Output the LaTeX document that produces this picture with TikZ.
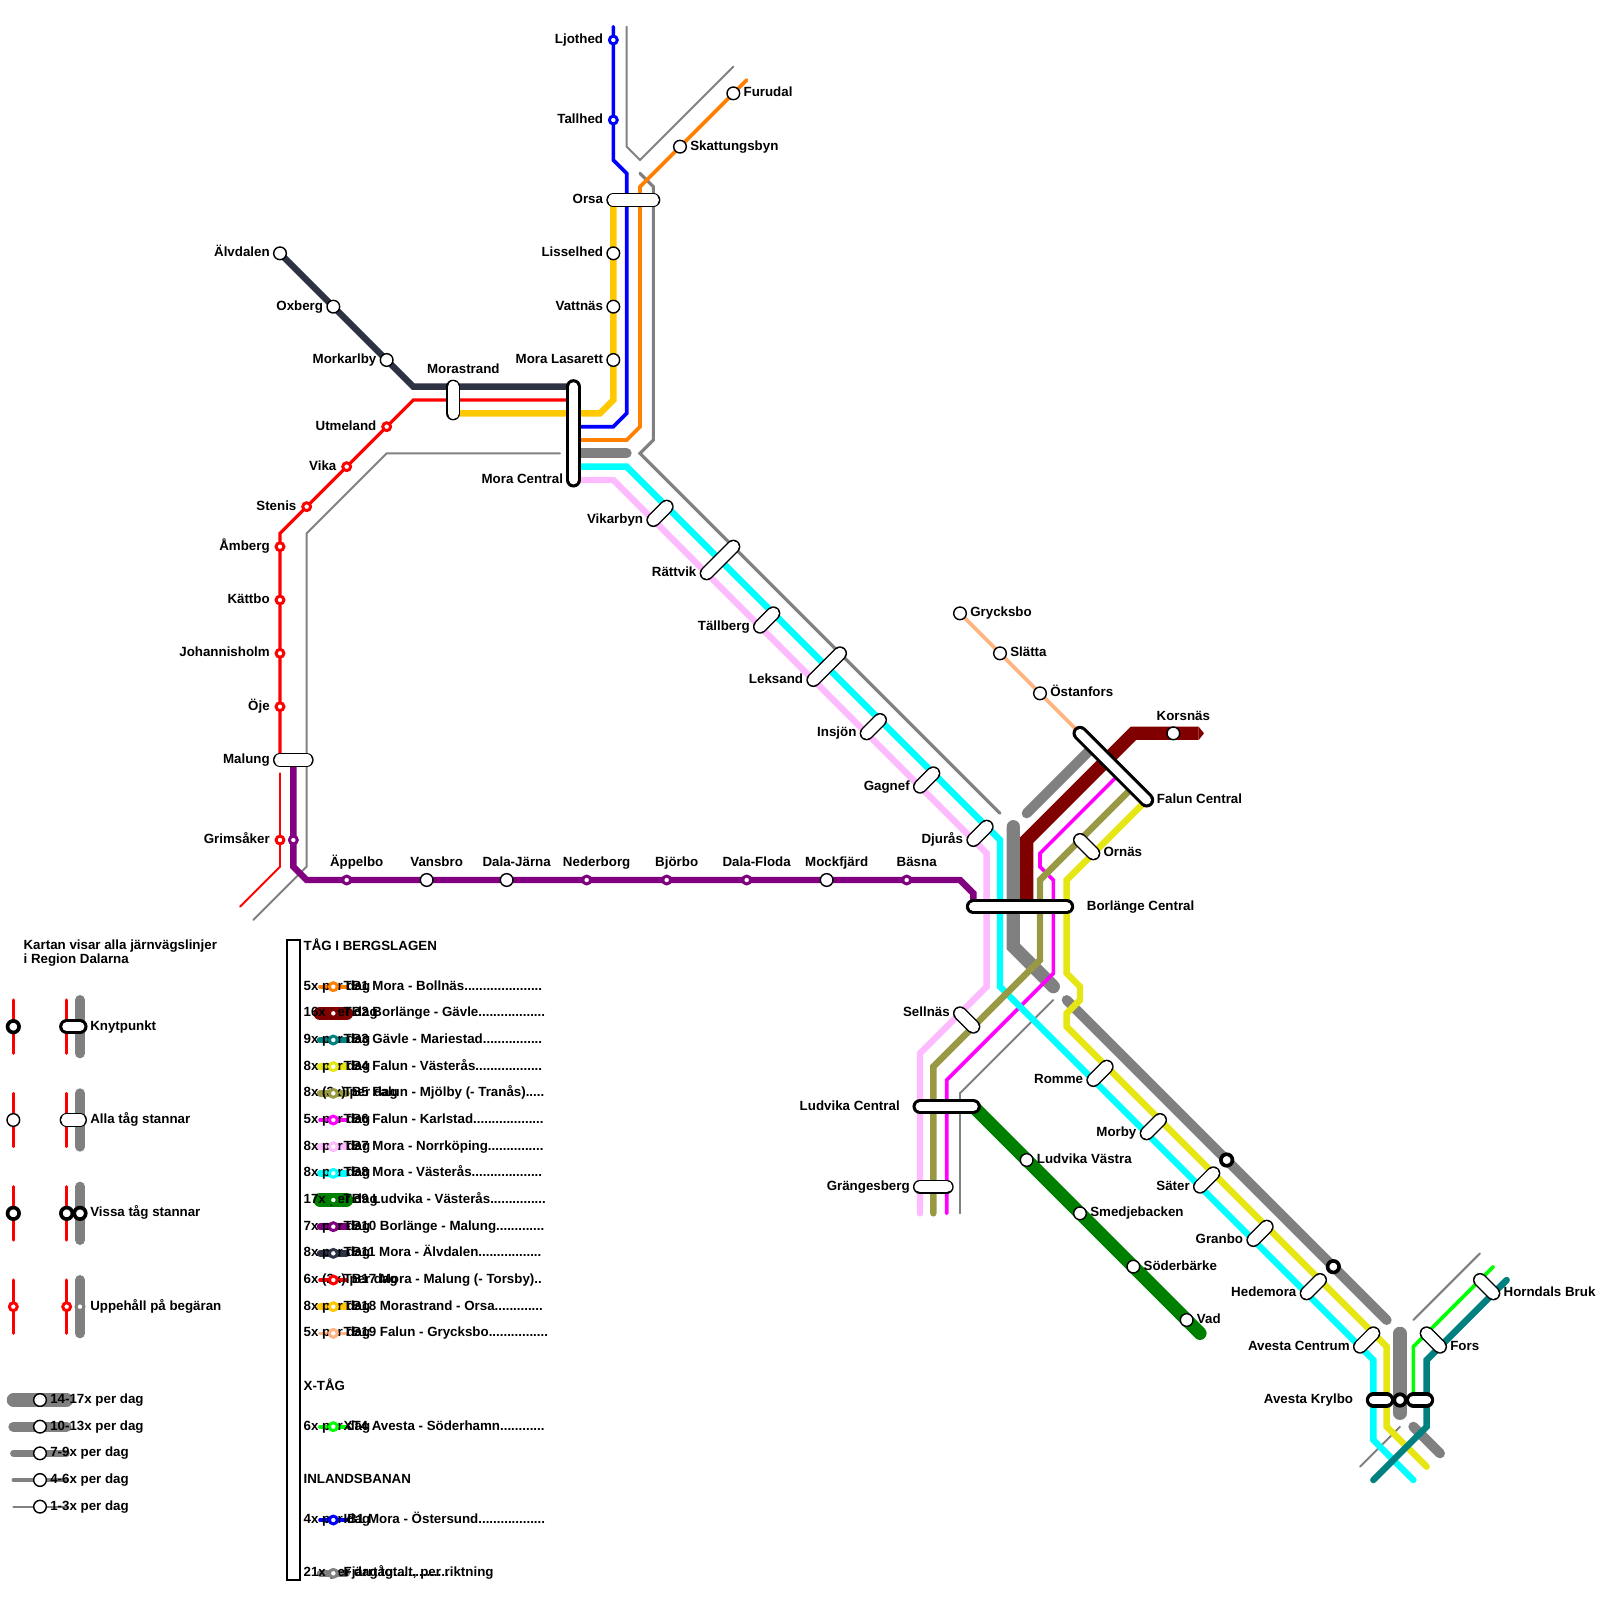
\documentclass[tikz,border=0pt]{standalone}
\usepackage{fontspec}
\setmainfont{Liberation Sans}
\definecolor{lineOrange}{HTML}{FF8000}
\definecolor{lineDarkRed}{HTML}{800000}
\definecolor{lineTeal}{HTML}{008080}
\definecolor{lineYellow}{HTML}{E6E614}
\definecolor{lineOlive}{HTML}{999944}
\definecolor{lineMagenta}{HTML}{FF00FF}
\definecolor{linePink}{HTML}{FFBBFF}
\definecolor{lineCyan}{HTML}{00FFFF}
\definecolor{lineGreen}{HTML}{008000}
\definecolor{linePurple}{HTML}{800080}
\definecolor{lineDark}{HTML}{2E3344}
\definecolor{lineRed}{HTML}{FF0000}
\definecolor{lineGold}{HTML}{FFC800}
\definecolor{linePeach}{HTML}{FFB380}
\definecolor{lineLime}{HTML}{00FF00}
\definecolor{lineBlue}{HTML}{0000FF}
\definecolor{lineGray}{HTML}{808080}
\newcount\dotcnt
\newcommand\rowdots[1]{\dotcnt=0\relax\loop\ifnum\dotcnt<#1\relax.\advance\dotcnt by 1\relax\repeat}
\tikzset{
  wa/.style={line width=9.4pt},
  wb/.style={line width=7.1pt},
  wc/.style={line width=4.6pt},
  wd/.style={line width=2.6pt},
  we/.style={line width=1.4pt},
  route/.style={line cap=round, line join=miter},
  halt/.style={line cap=round, draw=black, line width=1pt, double=white, double distance=8pt},
  hub/.style={line cap=round, draw=black, line width=2.2pt, double=white, double distance=6.3pt},
  stn/.style={circle, draw=black, fill=white, line width=1pt, minimum size=9pt, inner sep=0pt, outer sep=0pt},
  stnbold/.style={circle, draw=black, fill=white, line width=2.6pt, minimum size=8.2pt, inner sep=0pt, outer sep=0pt},
  ring/.style={circle, fill=white, line width=2.1pt, minimum size=5.6pt, inner sep=0pt, outer sep=0pt},
  lbl/.style={font=\fontsize{9.48pt}{9.48pt}\selectfont\bfseries, text=black, inner sep=0pt}
}
\begin{document}
\begin{tikzpicture}[x=1cm/3, y=-1cm/3]
  \useasboundingbox (0,0) rectangle (120,120);

  % Thin gray lines
  \draw[route, we, lineGray] (47,2) -- (47,11) -- (48,12) -- (55,5);
  \draw[route, we, lineGray] (42,34) -- (29,34) -- (23,40) -- (23,65) -- (19,69);
  \draw[route, we, lineGray] (79,75) -- (72,82) -- (72,91);
  \draw[route, we, lineGray] (105,107) -- (102,110);
  \draw[route, we, lineGray] (106,99) -- (111,94);
  \draw[route, lineGray, line width=2.2pt] (48,13) -- (49,14) -- (49,33) -- (48,34) -- (75,61);
  % Wide gray
  \draw[route, wb, lineGray] (43,34) -- (47,34);
  \draw[route, wb, lineGray] (77,61) -- (82,56);
  \draw[route, wa, lineGray] (76,62) -- (76,71) -- (79,74);
  \draw[route, wb, lineGray] (80,75) -- (104,99);
  \draw[route, wa, lineGray] (105,100) -- (105,106);
  \draw[route, wb, lineGray] (106,107) -- (108,109);

  % Coloured lines
  \draw[route, we, lineRed] (21,58) -- (21,65) -- (18,68);
  \draw[route, wd, lineMagenta] (84,58) -- (78,64) -- (78,65) -- (79,66) -- (79,73) -- (71,81) -- (71,91);
  \draw[route, wc, lineCyan] (43,35) -- (47,35) -- (75,63) -- (75,74) -- (103,102) -- (103,108) -- (106,111);
  \draw[route, wc, linePink] (43,36) -- (46,36) -- (74,64) -- (74,74) -- (69,79) -- (69,91);
  \draw[route, wc, lineOlive] (85,59) -- (78,66) -- (78,72) -- (70,80) -- (70,91);
  \draw[route, wc, lineYellow] (86,60) -- (80,66) -- (80,73) -- (81,74) -- (81,75) -- (80,76) -- (80,77) -- (104,101) -- (104,107) -- (107,110);
  \draw[route, wc, lineGold] (46,15) -- (46,30) -- (45,31) -- (34,31);
  \draw[route, wd, lineBlue] (46,2) -- (46,12) -- (47,13) -- (47,31) -- (46,32) -- (43,32);
  \draw[route, wd, lineOrange] (56,6) -- (48,14) -- (48,32) -- (47,33) -- (43,33);
  \draw[route, wc, lineDark] (21,19) -- (31,29) -- (43,29);
  \draw[route, lineRed, line width=2.3pt] (43,30) -- (31,30) -- (21,40) -- (21,57);
  \draw[route, wc, linePurple] (22,57) -- (22,65) -- (23,66) -- (72,66) -- (73,67) -- (73,68);
  \draw[route, wd, linePeach] (72,46) -- (81,55);
  \draw[route, wa, lineGreen] (73,83) -- (90,100);
  \draw[line cap=butt, wa, lineDarkRed] (77,68) -- (77,63) -- (85,55) -- (89.9,55);
  \fill[lineDarkRed] (89.9,54.5) -- (90.3,55) -- (89.9,55.5) -- cycle;
  \draw[route, wd, lineLime] (112,95) -- (106,101) -- (106,105);
  \draw[route, wc, lineTeal] (113,96) -- (107,102) -- (107,107) -- (103,111);

  % Halts drawn as bars
  \foreach \xa/\ya/\xb/\yb/\t in {46/15/49/15/Orsa, 21/57/23/57/Malung, 49/39/50/38/Vikarbyn,
      53/43/55/41/Rättvik, 57/47/58/46/Tällberg, 61/51/63/49/Leksand, 65/55/66/54/Insjön,
      69/59/70/58/Gagnef, 73/63/74/62/Djurås, 72/76/73/77/Sellnäs, 82/81/83/80/Romme,
      86/85/87/84/Morby, 90/89/91/88/Säter, 94/93/95/92/Granbo, 98/97/99/96/Hedemora,
      102/101/103/100/Avesta Centrum, 69/89/71/89/Grängesberg} {
    \draw[halt] (\xa,\ya) -- (\xb,\yb);
    \node[lbl, anchor=base east] (t\xa-\ya) at (\xa-.75,\ya+.27) {\t};
  }
  \foreach \xa/\ya/\xb/\yb/\t in {81/63/82/64/Ornäs, 107/100/108/101/Fors, 111/96/112/97/Horndals Bruk} {
    \draw[halt] (\xa,\ya) -- (\xb,\yb);
    \node[lbl, anchor=base west] (t\xa-\ya) at (\xb+.75,\yb+.27) {\t};
  }
  \draw[halt] (34,29) -- (34,31);
  \node[lbl, anchor=base] (tMorastrand) at (34.75,28) {Morastrand};
  % Knytpunkter
  \draw[hub] (43,29) -- (43,36);
  \node[lbl, anchor=base east] (tMora) at (42.25,36.27) {Mora Central};
  \draw[hub] (81,55) -- (86,60);
  \node[lbl, anchor=base west] (tFalun) at (86.75,60.27) {Falun Central};
  \draw[hub] (73,68) -- (80,68);
  \node[lbl, anchor=base west] (tBorlange) at (81.5,68.27) {Borlänge Central};
  \draw[hub] (69,83) -- (73,83);
  \node[lbl, anchor=base east] (tLudvika) at (67.5,83.27) {Ludvika Central};
  \draw[hub] (103,105) -- (104,105);
  \draw[hub] (106,105) -- (107,105);
  \node[lbl, anchor=base east] (tKrylbo) at (101.5,105.27) {Avesta Krylbo};

  % Stations
  \foreach \x/\y/\t in {46/19/Lisselhed, 46/23/Vattnäs, 46/27/Mora Lasarett, 21/19/Älvdalen,
      25/23/Oxberg, 29/27/Morkarlby} {
    \node[stn] (s\x-\y) at (\x,\y) {};
    \node[lbl, anchor=base east] (t\x-\y) at (\x-.75,\y+.27) {\t};
  }
  \foreach \x/\y/\t in {55/7/Furudal, 51/11/Skattungsbyn, 72/46/Grycksbo, 75/49/Slätta, 78/52/Östanfors,
      77/87/Ludvika Västra, 81/91/Smedjebacken, 85/95/Söderbärke, 89/99/Vad} {
    \node[stn] (s\x-\y) at (\x,\y) {};
    \node[lbl, anchor=base west] (t\x-\y) at (\x+.75,\y+.27) {\t};
  }
  \foreach \x/\t in {32/Vansbro, 38/Dala-Järna, 62/Mockfjärd} {
    \node[stn] (s\x-66) at (\x,66) {};
    \node[lbl, anchor=base] (t\x-66) at (\x+.75,65) {\t};
  }
  \foreach \x/\t in {26/Äppelbo, 44/Nederborg, 50/Björbo, 56/Dala-Floda, 68/Bäsna} {
    \node[ring, draw=linePurple] (s\x-66) at (\x,66) {};
    \node[lbl, anchor=base] (t\x-66) at (\x+.75,65) {\t};
  }
  \foreach \x/\y/\c/\t in {46/3/lineBlue/Ljothed, 46/9/lineBlue/Tallhed, 29/32/lineRed/Utmeland,
      26/35/lineRed/Vika, 23/38/lineRed/Stenis, 21/41/lineRed/Åmberg, 21/45/lineRed/Kättbo,
      21/49/lineRed/Johannisholm, 21/53/lineRed/Öje, 21/63/lineRed/Grimsåker} {
    \node[ring, draw=\c] (s\x-\y) at (\x,\y) {};
    \node[lbl, anchor=base east] (t\x-\y) at (\x-.75,\y+.27) {\t};
  }
  \node[ring, draw=linePurple] (s22-63) at (22,63) {};
  \node[stn] (sKorsnas) at (88,55) {};
  \node[lbl, anchor=base] (tKorsnas) at (88.75,54) {Korsnäs};
  \foreach \x/\y in {92/87, 100/95, 105/105}
    \node[stnbold] (s\x-\y) at (\x,\y) {};

  % Legend, stops
  \node[lbl, anchor=north west, align=left] (tTitle) at (1.75,70.5)
    {Kartan visar alla järnvägslinjer\\i Region Dalarna};
  \foreach \y in {77, 84, 91, 98} {
    \draw[route, lineRed, line width=2.2pt] (1,\y-2) -- (1,\y+2);
    \draw[route, lineRed, line width=2.2pt] (5,\y-2) -- (5,\y+2);
    \draw[route, wb, lineGray] (6,\y-2) -- (6,\y+2);
  }
  \node[stnbold] (kA) at (1,77) {};
  \draw[hub] (5,77) -- (6,77);
  \node[lbl, anchor=base west] (kT) at (6.75,77.27) {Knytpunkt};
  \node[stn] (aA) at (1,84) {};
  \draw[halt] (5,84) -- (6,84);
  \node[lbl, anchor=base west] (aT) at (6.75,84.27) {Alla tåg stannar};
  \node[stnbold] (vA) at (1,91) {};
  \node[stnbold] (vB) at (5,91) {};
  \node[stnbold] (vC) at (6,91) {};
  \node[lbl, anchor=base west] (vT) at (6.75,91.27) {Vissa tåg stannar};
  \node[ring, draw=lineRed] (uA) at (1,98) {};
  \node[ring, draw=lineRed] (uB) at (5,98) {};
  \node[ring, draw=lineGray] (uC) at (6,98) {};
  \node[lbl, anchor=base west] (uT) at (6.75,98.27) {Uppehåll på begäran};

  % Legend, frequency
  \foreach \y/\w/\t in {105/wa/14-17x per dag, 107/wb/10-13x per dag, 109/wc/7-9x per dag,
      111/wd/4-6x per dag, 113/we/1-3x per dag} {
    \draw[route, \w, lineGray] (1,\y) -- (5,\y);
    \node[stn] (f\y) at (3,\y) {};
    \node[lbl, anchor=base west] (ft\y) at (3.75,\y+.27) {\t};
  }

  % Line list
  \draw[black, line width=1.2pt, fill=white] (21.5,70.5) rectangle (22.5,118.5);
  \foreach \y/\t in {71/TÅG I BERGSLAGEN, 104/X-TÅG, 111/INLANDSBANAN}
    \node[lbl, anchor=base west] (h\y) at (22.75,\y+.27) {\t};
  \foreach \y/\c/\w/\f/\t/\n in {
      74/lineOrange/wd/5x per dag/TB1 Mora - Bollnäs/21,
      76/lineDarkRed/wa/16x per dag/TB2 Borlänge - Gävle/18,
      78/lineTeal/wc/9x per dag/TB3 Gävle - Mariestad/16,
      80/lineYellow/wc/8x per dag/TB4 Falun - Västerås/18,
      82/lineOlive/wc/8x (3x) per dag/TB5 Falun - Mjölby (- Tranås)/5,
      84/lineMagenta/wd/5x per dag/TB6 Falun - Karlstad/19,
      86/linePink/wc/8x per dag/TB7 Mora - Norrköping/15,
      88/lineCyan/wc/8x per dag/TB8 Mora - Västerås/19,
      90/lineGreen/wa/17x per dag/TB9 Ludvika - Västerås/15,
      92/linePurple/wc/7x per dag/TB10 Borlänge - Malung/13,
      94/lineDark/wc/8x per dag/TB11 Mora - Älvdalen/17,
      96/lineRed/wd/6x (2x) per dag/TB17 Mora - Malung (- Torsby)/2,
      98/lineGold/wc/8x per dag/TB18 Morastrand - Orsa/13,
      100/linePeach/wd/5x per dag/TB19 Falun - Grycksbo/16,
      107/lineLime/wd/6x per dag/XT4 Avesta - Söderhamn/12,
      114/lineBlue/wd/4x per dag/IB1 Mora - Östersund/18,
      118/lineGray/wc/21x per dag/Fjärrtåg/15} {
    \draw[route, \w, \c] (24,\y) -- (26,\y);
    \node[lbl, anchor=base west] (nf\y) at (22.75,\y+.27) {\f};
    \node[lbl, anchor=base west] (nt\y) at (25.75,\y+.27) {\t\rowdots{\n}};
    \node[ring, draw=\c] (nr\y) at (25,\y) {};
  }
  \node[lbl, anchor=base west] (nrow) at (28.5,118.27) {totalt, per riktning};
\end{tikzpicture}
\end{document}
